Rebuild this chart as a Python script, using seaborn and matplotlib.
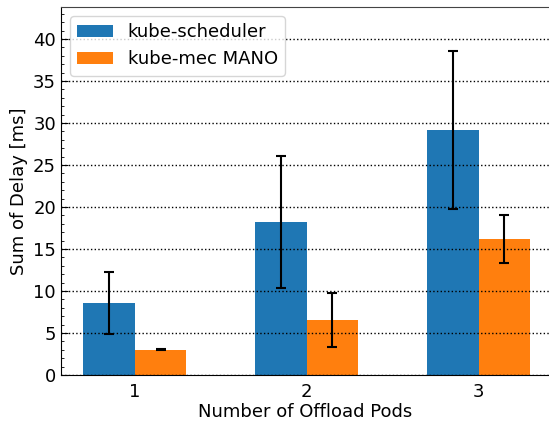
import matplotlib
matplotlib.use("Agg")
import matplotlib.pyplot as plt
import pandas as pd
import seaborn as sns
from matplotlib.ticker import MultipleLocator

# Data
pods = ["1", "2", "3"]
sched_mean = [8.6, 18.2, 29.2]
sched_err = [3.7, 7.9, 9.4]
mano_mean = [3.0, 6.55, 16.2]
mano_err = [0.05, 3.2, 2.9]
labels = ["kube-scheduler", "kube-mec MANO"]

df = pd.DataFrame({
    "pods": pods * 2,
    "delay": sched_mean + mano_mean,
    "err": sched_err + mano_err,
    "method": [labels[0]] * 3 + [labels[1]] * 3,
})

plt.rcParams["font.family"] = ["DejaVu Sans"]
plt.rcParams["font.size"] = 13

fig = plt.figure(figsize=(5.49, 4.25), dpi=100)
ax = fig.add_axes([0.111, 0.1176, 0.889, 0.8659])

sns.barplot(data=df, x="pods", y="delay", hue="method", hue_order=labels,
            palette=["#1f77b4", "#ff7f0e"], width=0.6, gap=0,
            errorbar=None, saturation=1, linewidth=0, ax=ax)

# error bars centred on the seaborn bars
for cont, lab in zip(ax.containers, labels):
    sub = df[df["method"] == lab]
    xs = [b.get_x() + b.get_width() / 2 for b in cont]
    ax.errorbar(xs, sub["delay"], yerr=sub["err"], fmt="none",
                ecolor="black", elinewidth=1.5, capsize=3.8, capthick=1.5)

ax.set_xlim(-0.43, 2.41)
ax.set_ylim(0, 43.8)
ax.yaxis.set_major_locator(MultipleLocator(5))
ax.yaxis.set_minor_locator(MultipleLocator(1))
ax.tick_params(axis="y", which="both", direction="in", labelsize=13, left=True)
ax.tick_params(axis="y", which="major", length=5)
ax.tick_params(axis="y", which="minor", length=2.5)
ax.tick_params(axis="x", length=0, labelsize=13, pad=6)
ax.set_axisbelow(False)
ax.yaxis.grid(True, linestyle=":", color="black", linewidth=1)
ax.xaxis.grid(False)
ax.spines["right"].set_visible(False)
ax.spines["top"].set_color("#444444")

ax.set_xlabel("Number of Offload Pods", fontsize=13, labelpad=1)
ax.set_ylabel("Sum of Delay [ms]", fontsize=13)
ax.legend(loc="upper left", fontsize=13, title=None, framealpha=0.8)

fig.savefig("out.png", dpi=100)
